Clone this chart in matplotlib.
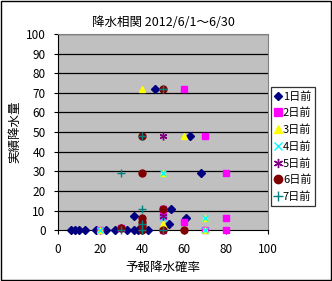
import matplotlib
matplotlib.use("Agg")
import matplotlib.pyplot as plt
from matplotlib.patches import Rectangle

plt.rcParams['font.family'] = ['Noto Sans CJK JP', 'DejaVu Sans']

# forecast probability (%) vs. observed rainfall (mm), by lead time
d1_x = [6, 8, 10, 13, 18, 23, 27, 33, 36, 36, 38, 43, 53, 54, 61, 68, 63, 46]
d1_y = [0, 0, 0, 0, 0, 0, 0, 0, 7, 0, 0, 0, 3, 11, 6, 29, 48, 72]
d2_x = [20, 30, 50, 50, 50, 60, 70, 80, 80, 80, 70, 60]
d2_y = [0, 1, 11, 7, 0, 4, 0, 0, 6, 29, 48, 72]
d3_x = [20, 50, 50, 60, 70, 70, 40]
d3_y = [0, 3, 29, 48, 6, 0, 72]
d4_x = [20, 50, 50, 70, 70]
d4_y = [0, 6, 29, 6, 0]
d5_x = [30, 50, 50]
d5_y = [1, 7, 48]
d6_x = [30, 40, 40, 40, 40, 40, 40, 50, 50, 60, 50]
d6_y = [1, 0, 2, 4, 6, 29, 48, 11, 0, 0, 72]
d7_x = [30, 30, 40, 40, 40, 40, 50, 50]
d7_y = [0, 29, 11, 3, 0, 48, 0, 72]

labels = ['1日前', '2日前', '3日前', '4日前', '5日前', '6日前', '7日前']

fig = plt.figure(figsize=(3.32, 2.81), dpi=100)
fig.patch.set_facecolor('white')
ax = fig.add_axes([0.175, 0.181, 0.632, 0.698])
ax.set_facecolor('#C0C0C0')

kw = dict(ls='none', clip_on=False, zorder=3)
ax.plot(d1_x, d1_y, 'D', color='#000080', ms=3.6, label=labels[0], **kw)
ax.plot(d2_x, d2_y, 's', color='#FF00FF', ms=5, label=labels[1], **kw)
ax.plot(d3_x, d3_y, '^', color='#FFFF00', ms=5, label=labels[2], **kw)
ax.plot(d4_x, d4_y, 'x', color='#00FFFF', mec='#00FFFF', ms=4.5, mew=1, label=labels[3], **kw)
ax.plot(d5_x, d5_y, marker=(6, 2, 0), color='#800080', mec='#800080', ms=5.5, mew=1,
        label=labels[4], **kw)
ax.plot(d6_x, d6_y, 'o', color='#800000', ms=5, label=labels[5], **kw)
ax.plot(d7_x, d7_y, '+', color='#008080', mec='#008080', ms=6, mew=1, label=labels[6], **kw)

ax.set_xlim(0, 100)
ax.set_ylim(0, 100)
ax.set_xticks(range(0, 101, 20))
ax.set_yticks(range(0, 101, 10))
for v in range(10, 101, 10):
    ax.axhline(v, color='black', lw=0.9, zorder=0.5)
ax.tick_params(labelsize=8.5, length=3, width=0.8, direction='out', pad=6)
for s in ['top', 'right']:
    ax.spines[s].set_color('#808080')
ax.spines['left'].set_color('black')
ax.spines['bottom'].set_color('black')

ax.set_title('降水相関 2012/6/1～6/30', fontsize=9, pad=6)
ax.set_xlabel('予報降水確率', fontsize=9, labelpad=4)
ax.set_ylabel('実績降水量', fontsize=9, labelpad=3)

leg = fig.legend(loc='upper left', bbox_to_anchor=(0.817, 0.69), fontsize=8,
                 frameon=True, fancybox=False, edgecolor='black',
                 handlelength=0.6, handletextpad=0.1, labelspacing=0.55,
                 borderpad=0.35, borderaxespad=0, markerscale=1.2)
leg.get_frame().set_linewidth(0.9)

fig.add_artist(Rectangle((0.002, 0.002), 0.994, 0.993, transform=fig.transFigure,
                         fill=False, edgecolor='black', lw=1))

fig.savefig('out.png', dpi=100)
